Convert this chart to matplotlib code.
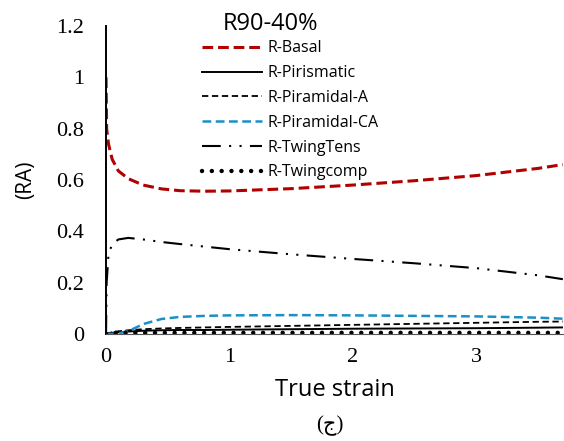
import matplotlib.pyplot as plt
import numpy as np

# true strain sample points
strain = [0, 0.005, 0.02, 0.05, 0.1, 0.18, 0.3, 0.45, 0.6, 0.8, 1.0, 1.5, 2.0, 2.5, 3.0, 3.5, 3.7]

basal     = [1.0, 0.80, 0.74, 0.68, 0.635, 0.605, 0.58, 0.565, 0.558, 0.556, 0.557, 0.566, 0.58, 0.597, 0.617, 0.645, 0.66]
prismatic = [0.0, 0.0, 0.002, 0.004, 0.006, 0.009, 0.012, 0.014, 0.015, 0.015, 0.016, 0.018, 0.02, 0.021, 0.022, 0.024, 0.025]
pyr_a     = [0.0, 0.0, 0.003, 0.006, 0.01, 0.014, 0.018, 0.021, 0.023, 0.025, 0.027, 0.031, 0.035, 0.039, 0.043, 0.047, 0.048]
pyr_ca    = [0.0, 0.0, 0.0, 0.0, 0.002, 0.01, 0.038, 0.058, 0.066, 0.07, 0.072, 0.073, 0.072, 0.07, 0.068, 0.063, 0.059]
tw_tens   = [0.0, 0.2, 0.31, 0.35, 0.368, 0.374, 0.368, 0.358, 0.35, 0.34, 0.33, 0.31, 0.292, 0.275, 0.256, 0.228, 0.213]
tw_comp   = [0.0, 0.0, 0.003, 0.004, 0.004, 0.004, 0.004, 0.004, 0.004, 0.004, 0.004, 0.004, 0.004, 0.004, 0.004, 0.004, 0.004]

fig = plt.figure(figsize=(5.64, 4.41), dpi=100)
ax = fig.add_axes([0.188, 0.243, 0.81, 0.698])

ax.plot(strain, basal, color='#B00000', lw=2.2, ls=(0, (3.5, 1.6)), label='R-Basal')
ax.plot(strain, prismatic, color='black', lw=1.4, label='R-Pirismatic')
ax.plot(strain, pyr_a, color='black', lw=1.3, ls=(0, (3.5, 2)), label='R-Piramidal-A')
ax.plot(strain, pyr_ca, color='#1B8FC6', lw=1.8, ls=(0, (3.5, 1.8)), label='R-Piramidal-CA')
ax.plot(strain, tw_tens, color='black', lw=1.5, ls=(0, (9, 4, 1, 4, 1, 4)), label='R-TwingTens')
ax.plot(strain, tw_comp, color='black', lw=3.2, ls=(0, (0.01, 2.2)), dash_capstyle='round',
        label='R-Twingcomp')

ax.set_xlim(0, 3.7)
ax.set_ylim(0, 1.2)
ax.set_xticks([0, 1, 2, 3])
ax.set_yticks([0, 0.2, 0.4, 0.6, 0.8, 1.0, 1.2])
ax.set_yticklabels(['0', '0.2', '0.4', '0.6', '0.8', '1', '1.2'])
ax.tick_params(length=0, labelsize=16)
ax.tick_params(axis='x', pad=10)
ax.tick_params(axis='y', pad=16)
for t in ax.get_xticklabels() + ax.get_yticklabels():
    t.set_family('Liberation Serif')

ax.spines['top'].set_visible(False)
ax.spines['right'].set_visible(False)
ax.spines['left'].set_linewidth(1.4)
ax.spines['bottom'].set_color('#555555')

ax.set_xlabel('True strain', fontsize=17, family='Open Sans', labelpad=8)
ax.set_ylabel('(RA)', fontsize=15, family='Open Sans', labelpad=14)
ax.set_title('R90-40%', fontsize=17, family='Open Sans', x=0.36, y=0.96)

ax.legend(loc='upper left', bbox_to_anchor=(0.178, 1.0), frameon=False,
          prop={'family': 'Open Sans', 'size': 11.5}, handlelength=3.75,
          labelspacing=0.55, handletextpad=0.35)

fig.text(0.585, 0.025, '(ج)', fontsize=15, family=['Liberation Serif', 'DejaVu Sans'], ha='center')

fig.savefig('out.png', dpi=100)
